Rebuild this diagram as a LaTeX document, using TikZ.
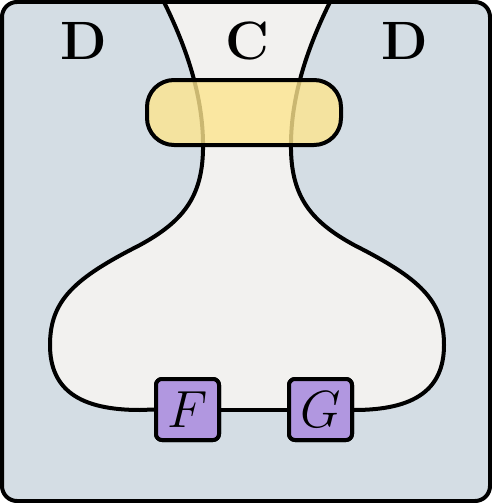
\documentclass[tikz,border=0pt]{standalone}
\usepackage{tikz}
\pgfdeclarelayer{background}
\pgfsetlayers{background,main}
\definecolor{bgblue}{HTML}{D4DDE4}
\definecolor{innergrey}{HTML}{F2F1EF}
\definecolor{boxpurple}{HTML}{B197E0}
\definecolor{bandyellow}{HTML}{FDE58E}
\newcommand{\bigmath}[1]{\scalebox{2.1}{\Huge$#1$}}
\begin{document}
\begin{tikzpicture}[x=1pt,y=-1pt,
  wire/.style={line width=4pt, line join=round},
  boxnode/.style={draw, line width=4pt, fill=boxpurple, rounded corners=6pt,
    minimum width=63pt, minimum height=61pt, inner sep=0pt},
  bandnode/.style={draw, line width=4pt, fill=bandyellow, fill opacity=0.8,
    draw opacity=1, rounded corners=27pt, minimum width=194pt, minimum height=65pt, inner sep=0pt},
  lbl/.style={font=\fontsize{54}{60}\selectfont\bfseries}]
\useasboundingbox (0,0) rectangle (492,503);
% boxes
\node[boxnode] (F) at (187.5,409.5) {\bigmath{F}};
\node[boxnode] (G) at (320.5,409.5) {\bigmath{G}};
\begin{pgfonlayer}{background}
  \fill[bgblue, rounded corners=15pt] (2,2) rectangle (490,501);
  \fill[innergrey] (163,-3) -- (163,0) .. controls (188,50) and (204,100) .. (203,150)
    .. controls (202,198) and (182,222) .. (140,245)
    .. controls (75,278) and (50,300) .. (50,345)
    .. controls (50,390) and (80,410) .. (140,410)
    -- (354,410)
    .. controls (414,410) and (444,390) .. (444,345)
    .. controls (444,300) and (419,278) .. (354,245)
    .. controls (312,222) and (292,198) .. (291,150)
    .. controls (290,100) and (306,50) .. (331,0) -- (331,-3) -- cycle;
\end{pgfonlayer}
% wires
\coordinate (TL) at (163,0);
\coordinate (TR) at (331,0);
\draw[wire] (TL) .. controls (188,50) and (204,100) .. (203,150)
    .. controls (202,198) and (182,222) .. (140,245)
    .. controls (75,278) and (50,300) .. (50,345)
    .. controls (50,390) and (80,410) .. (140,410) -- (F.west);
\draw[wire] (F.east) -- (G.west);
\draw[wire] (G.east) -- (354,410)
    .. controls (414,410) and (444,390) .. (444,345)
    .. controls (444,300) and (419,278) .. (354,245)
    .. controls (312,222) and (292,198) .. (291,150)
    .. controls (290,100) and (306,50) .. (TR);
% redraw boxes over wires
\node[boxnode] at (F) {\bigmath{F}};
\node[boxnode] at (G) {\bigmath{G}};
% yellow band
\node[bandnode] (Y) at (244,112.5) {};
% labels
\node[lbl] (D1) at (83.5,41) {D};
\node[lbl] (C) at (247,41) {C};
\node[lbl] (D2) at (405,41) {D};
% outer border
\draw[line width=4pt, rounded corners=15pt] (2,2) rectangle (490,501);
\end{tikzpicture}
\end{document}
